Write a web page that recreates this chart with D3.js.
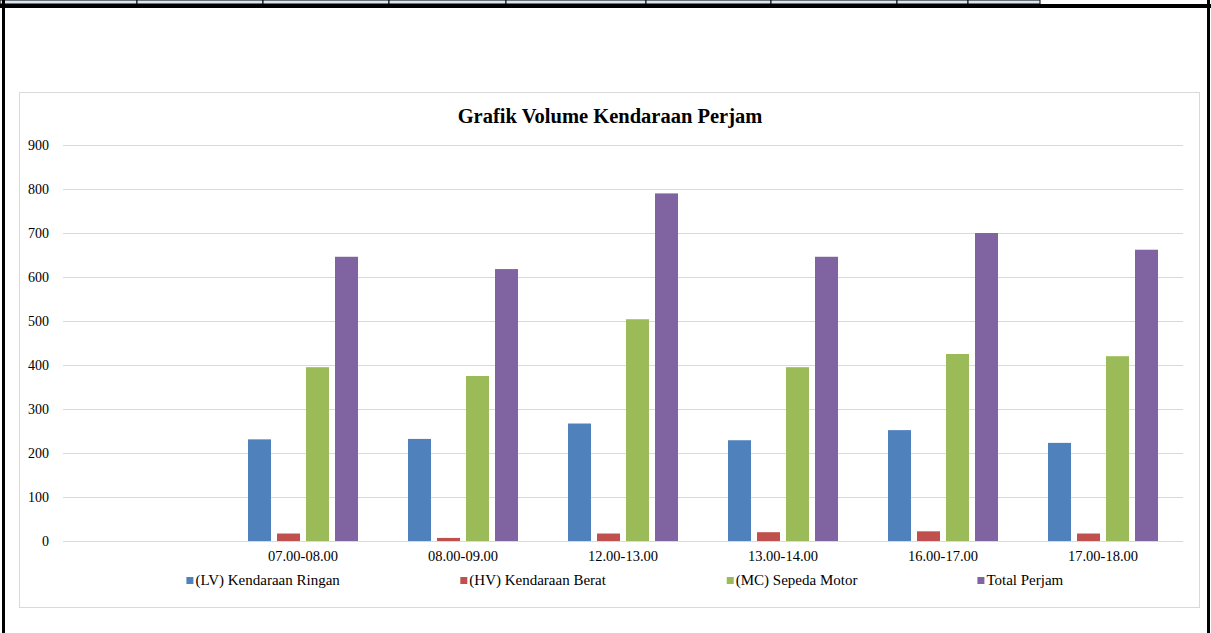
<!DOCTYPE html>
<html>
<head>
<meta charset="utf-8">
<script src="https://cdn.jsdelivr.net/npm/d3@7"></script>
<style>
  body { margin: 0; background: #fff; }
</style>
</head>
<body>
<div id="vis"></div>
<script>
// chart data
const CATEGORIES = ["", "07.00-08.00", "08.00-09.00", "12.00-13.00", "13.00-14.00", "16.00-17.00", "17.00-18.00"];
const SERIES = ["(LV) Kendaraan Ringan", "(HV) Kendaraan Berat", "(MC) Sepeda Motor", "Total Perjam"];
const LV = [null, 231, 232, 267, 229, 252, 223];
const HV = [null, 17, 7, 17, 20, 22, 17];
const MC = [null, 395, 375, 504, 395, 425, 420];
const TOTAL = [null, 646, 618, 790, 646, 700, 662];
const Y_TICKS = [0, 100, 200, 300, 400, 500, 600, 700, 800, 900];
const COLORS = ["#4f81bd", "#c0504d", "#9bbb59", "#8064a2"];
// spreadsheet header cells above the chart (column edges)
const HEADER_EDGES = [0, 137, 263, 389, 506, 646, 771, 897, 968, 1040];

const FONT = "'Liberation Serif'";
const FRAME_WIDTH = 1211;
const FRAME_HEIGHT = 633;
const PLOT = {left: 63, right: 1183, top: 145, bottom: 541};

const svg = d3.select("#vis").append("svg")
    .attr("width", FRAME_WIDTH)
    .attr("height", FRAME_HEIGHT);

// sheet decoration: header cells, thick line, side borders
svg.selectAll(".hcell")
  .data(d3.pairs(HEADER_EDGES))
  .enter().append("rect")
    .attr("x", d => d[0])
    .attr("y", 0)
    .attr("width", d => d[1] - d[0])
    .attr("height", 4)
    .attr("fill", "#dce6f1")
    .attr("stroke", "#000")
    .attr("stroke-width", 1);
svg.append("rect").attr("x", 0).attr("y", 4).attr("width", FRAME_WIDTH).attr("height", 4).attr("fill", "#000");
svg.append("rect").attr("x", 2).attr("y", 0).attr("width", 3).attr("height", FRAME_HEIGHT).attr("fill", "#000");
svg.append("rect").attr("x", 1207).attr("y", 0).attr("width", 3).attr("height", FRAME_HEIGHT).attr("fill", "#000");

// chart box
svg.append("rect")
    .attr("x", 19.5).attr("y", 92.5)
    .attr("width", 1180).attr("height", 515)
    .attr("fill", "#fff")
    .attr("stroke", "#d9d9d9");

// title
svg.append("text")
    .attr("x", 610).attr("y", 123)
    .attr("text-anchor", "middle")
    .style("font-family", FONT)
    .style("font-size", "20.5px")
    .style("font-weight", "bold")
    .text("Grafik Volume Kendaraan Perjam");

// scales
const X = d3.scaleBand().domain(CATEGORIES).range([PLOT.left, PLOT.right]);
const X_INNER = d3.scaleBand().domain(SERIES)
    .range([25, X.bandwidth() - 25])
    .paddingInner(0.207);
const Y = d3.scaleLinear().domain([0, 900]).range([PLOT.bottom, PLOT.top]);

// gridlines + y labels
const yAxis = svg.append("g")
    .attr("transform", "translate(" + PLOT.left + ",0)")
    .call(d3.axisLeft(Y).tickValues(Y_TICKS).tickSize(-(PLOT.right - PLOT.left)).tickPadding(14));
yAxis.select(".domain").remove();
yAxis.selectAll("line").attr("stroke", "#d9d9d9");
yAxis.selectAll("text")
    .style("font-family", FONT)
    .style("font-size", "14px")
    .attr("fill", "#000");

// bars
const values = [LV, HV, MC, TOTAL];
const barData = [];
CATEGORIES.forEach((c, i) => {
  SERIES.forEach((s, j) => {
    if (values[j][i] != null) barData.push({cat: c, series: s, value: values[j][i], color: COLORS[j]});
  });
});

svg.selectAll(".bar")
  .data(barData)
  .enter().append("rect")
    .attr("class", "bar")
    .attr("x", d => X(d.cat) + X_INNER(d.series))
    .attr("y", d => Y(d.value))
    .attr("width", X_INNER.bandwidth())
    .attr("height", d => Y(0) - Y(d.value))
    .attr("fill", d => d.color);

// x axis labels
const xAxis = svg.append("g")
    .attr("transform", "translate(0," + PLOT.bottom + ")")
    .call(d3.axisBottom(X).tickSize(0).tickPadding(10));
xAxis.select(".domain").remove();
xAxis.selectAll("text")
    .style("font-family", FONT)
    .style("font-size", "14.5px")
    .attr("fill", "#000");

// legend
const legend = svg.append("g").attr("transform", "translate(0,585)");
const items = legend.selectAll(".item")
  .data(SERIES)
  .enter().append("g")
    .attr("class", "item");
items.append("rect")
    .attr("width", 7).attr("height", 7)
    .attr("y", -8)
    .attr("fill", (d, i) => COLORS[i]);
items.append("text")
    .attr("x", 9)
    .attr("y", 0)
    .style("font-family", FONT)
    .style("font-size", "15px")
    .text(d => d);

// place entries with equal gaps, centred under the plot
const GAP = 120;
const widths = [];
items.each(function() { widths.push(this.getBBox().width); });
const total = d3.sum(widths) + GAP * (widths.length - 1);
let cursor = (PLOT.left + PLOT.right) / 2 - total / 2 + 2;
items.attr("transform", (d, i) => {
  const x = cursor;
  cursor += widths[i] + GAP;
  return "translate(" + x + ",0)";
});
</script>
</body>
</html>
